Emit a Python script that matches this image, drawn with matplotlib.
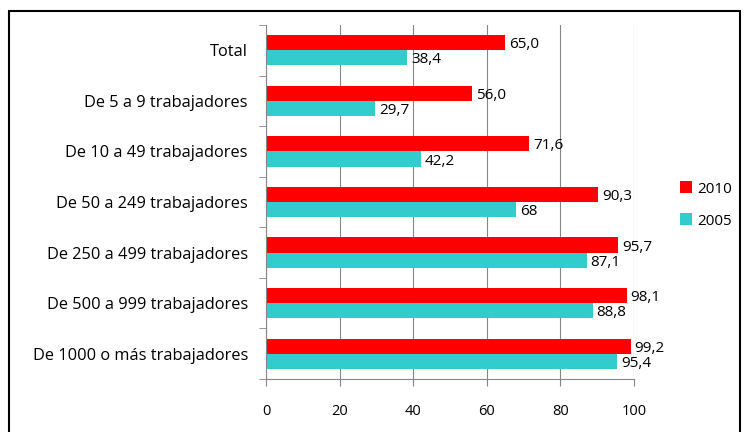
import numpy as np
import matplotlib
matplotlib.use("Agg")
from matplotlib import pyplot as plt
from matplotlib.patches import Rectangle

categories = [
    "Total",
    "De 5 a 9 trabajadores",
    "De 10 a 49 trabajadores",
    "De 50 a 249 trabajadores",
    "De 250 a 499 trabajadores",
    "De 500 a 999 trabajadores",
    "De 1000 o más trabajadores",
]
vals_2010 = [65.0, 56.0, 71.6, 90.3, 95.7, 98.1, 99.2]
vals_2005 = [38.4, 29.7, 42.2, 68.0, 87.1, 88.8, 95.4]
labels_2010 = ["65,0", "56,0", "71,6", "90,3", "95,7", "98,1", "99,2"]
labels_2005 = ["38,4", "29,7", "42,2", "68", "87,1", "88,8", "95,4"]

plt.rcParams["font.family"] = ["Open Sans", "DejaVu Sans"]

fig = plt.figure(figsize=(7.45, 4.32), dpi=100)
ax = fig.add_axes([266 / 745, 1 - 379 / 432, (634 - 266) / 745, (379 - 25) / 432])

y = np.arange(len(categories))
h = 0.30
red = "#FF0000"
cyan = "#33CCCC"
ax.barh(y - h / 2, vals_2010, height=h, color=red, label="2010")
ax.barh(y + h / 2, vals_2005, height=h, color=cyan, label="2005")

fs = 11
for yi, v, t in zip(y, vals_2010, labels_2010):
    ax.text(v + 1.0, yi - h / 2 + 0.04, t, va="center", ha="left", fontsize=fs)
for yi, v, t in zip(y, vals_2005, labels_2005):
    ax.text(v + 1.0, yi + h / 2 + 0.04, t, va="center", ha="left", fontsize=fs)

ax.set_xlim(0, 100)
ax.set_ylim(len(categories) - 0.5, -0.5)
ax.set_xticks([0, 20, 40, 60, 80, 100])
ax.set_yticks(y)
ax.set_yticklabels(categories, fontsize=11.8)
ax.set_yticks(np.arange(-0.5, len(categories), 1), minor=True)
ax.tick_params(axis="y", which="major", length=0, pad=13)
ax.tick_params(axis="y", which="minor", length=5, color="#868686", direction="out")
ax.tick_params(axis="x", length=5, color="#868686", labelsize=10.5, pad=13)

ax.grid(axis="x", color="#868686", linewidth=0.8)
ax.set_axisbelow(True)
for side in ["top", "right"]:
    ax.spines[side].set_visible(False)
for side in ["left", "bottom"]:
    ax.spines[side].set_color("#868686")
    ax.spines[side].set_linewidth(0.8)

leg = fig.legend(
    loc="center left",
    bbox_to_anchor=(666 / 745, 1 - 205 / 432),
    frameon=False,
    fontsize=fs,
    handlelength=0.8,
    handleheight=0.8,
    handletextpad=0.35,
    labelspacing=1.1,
)

fig.patches.append(
    Rectangle((9 / 745, -0.05), (740 - 9) / 745, (432 - 11) / 432 + 0.05,
              transform=fig.transFigure, fill=False, edgecolor="black",
              linewidth=1.5)
)

fig.savefig("out.png", dpi=100)
